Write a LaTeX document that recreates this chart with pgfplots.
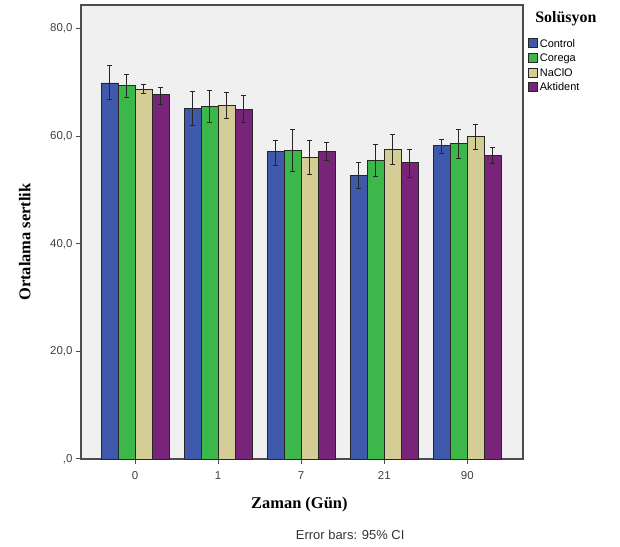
\documentclass[border=0pt]{standalone}
\usepackage{pgfplots}
\pgfplotsset{compat=1.18}
\usepackage{pgfplotstable}
\usepackage{fontspec}
\setmainfont{Liberation Sans}
\newfontfamily\serifb{Liberation Serif}
\definecolor{cctrl}{RGB}{62,88,170}
\definecolor{ccoreg}{RGB}{60,184,74}
\definecolor{cnacl}{RGB}{212,205,150}
\definecolor{cakt}{RGB}{120,36,120}
\definecolor{cbg}{RGB}{240,240,240}
\pgfplotstableread{
x y ep em
0 69.9 3.3 3.1
1 65.2 3.1 3.2
2 57.1 2.1 2.6
3 52.7 2.5 2.4
4 58.3 1.1 1.5
}\tctrl
\pgfplotstableread{
x y ep em
0 69.4 2.1 2.2
1 65.6 2.9 3.0
2 57.4 3.9 4.0
3 55.5 2.9 3.0
4 58.7 2.6 2.9
}\tcoreg
\pgfplotstableread{
x y ep em
0 68.7 0.9 0.7
1 65.8 2.3 2.5
2 56.1 3.1 3.3
3 57.5 2.8 2.8
4 59.9 2.3 2.4
}\tnacl
\pgfplotstableread{
x y ep em
0 67.7 1.3 1.8
1 65.0 2.5 2.5
2 57.2 1.7 1.7
3 55.2 2.4 2.8
4 56.5 1.4 1.5
}\takt
\begin{document}
\begin{tikzpicture}
\path (0bp,0bp) rectangle (620bp,547bp);
\begin{axis}[
  at={(81bp,88bp)}, anchor=south west,
  width=442bp, height=454bp, scale only axis,
  ybar=0pt, bar width=17bp,
  ymin=0, ymax=84.4, xmin=-0.65, xmax=4.67,
  xtick={0,1,2,3,4}, xticklabels={0,1,7,21,90},
  ytick={0,20,40,60,80}, yticklabels={{,0},{20,0},{40,0},{60,0},{80,0}},
  tick align=outside, xtick pos=lower, ytick pos=left,
  major tick length=5bp,
  axis background/.style={fill=cbg},
  axis line style={draw=black!70, line width=1.2bp},
  tick style={draw=black!70, line width=1bp},
  tick label style={font=\fontsize{11.5}{13}\selectfont, text=black!75},
  xticklabel style={yshift=-4bp},
  ylabel={\serifb\bfseries\fontsize{16.5}{18}\selectfont Ortalama sertlik},
  ylabel style={at={(axis description cs:-0.127,0.478)}, anchor=center},
  xlabel={\serifb\bfseries\fontsize{16.5}{18}\selectfont Zaman (Gün)},
  xlabel style={at={(axis description cs:0.494,-0.101)}, anchor=center},
  legend style={at={(axis description cs:1.011,0.932)}, anchor=north west,
    draw=none, fill=none, font=\fontsize{11}{13}\selectfont, row sep=0bp,
    inner sep=0pt},
  legend cell align=left,
  legend image code/.code={\draw[#1,line width=0.8bp] (0bp,-4.5bp) rectangle (9bp,4.5bp);},
  error bars/error bar style={line width=1bp, draw=black!85},
  error bars/error mark options={rotate=90, mark size=2.5bp, line width=1bp, draw=black!85},
  clip=false,
]
\addplot+[fill=cctrl, draw=black!85, line width=0.8bp, error bars/.cd, y dir=both, y explicit]
  table[x=x,y=y,y error plus=ep,y error minus=em]{\tctrl};
\addplot+[fill=ccoreg, draw=black!85, line width=0.8bp, error bars/.cd, y dir=both, y explicit]
  table[x=x,y=y,y error plus=ep,y error minus=em]{\tcoreg};
\addplot+[fill=cnacl, draw=black!85, line width=0.8bp, error bars/.cd, y dir=both, y explicit]
  table[x=x,y=y,y error plus=ep,y error minus=em]{\tnacl};
\addplot+[fill=cakt, draw=black!85, line width=0.8bp, error bars/.cd, y dir=both, y explicit]
  table[x=x,y=y,y error plus=ep,y error minus=em]{\takt};
\legend{\strut Control,\strut Corega,\strut NaClO,\strut Aktident}
\node[anchor=west, font=\serifb\bfseries\fontsize{16}{18}\selectfont] at (axis description cs:1.02,0.97) {Solüsyon};
\node[anchor=center, font=\fontsize{13}{15}\selectfont, text=black!80] at (axis description cs:0.609,-0.167) {Error bars: 95\% CI};
\end{axis}
\end{tikzpicture}
\end{document}
